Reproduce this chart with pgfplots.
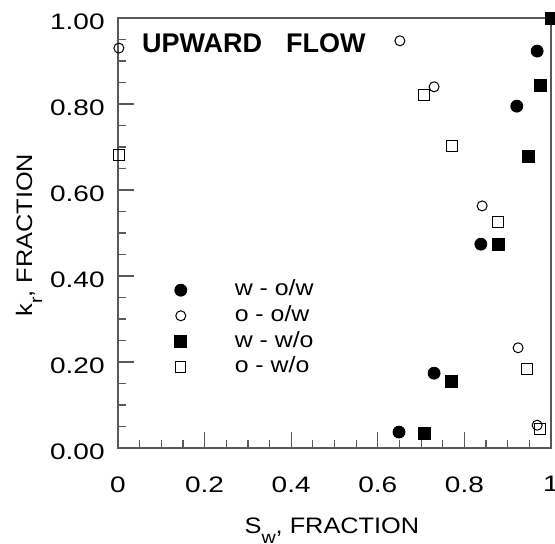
\documentclass[border=0pt]{standalone}
\usepackage{fontspec}
\setmainfont{Liberation Sans}[FakeStretch=1.13]
\newfontfamily\tickfont{Liberation Sans}[FakeStretch=1.25]
\newfontfamily\titlefont{Liberation Sans}
\usepackage{pgfplots}
\pgfplotsset{compat=1.18}

\pgfplotstableread{
x y
0.649 0.037
0.730 0.174
0.838 0.474
0.921 0.795
0.968 0.923
}\wow
\pgfplotstableread{
x y
0.002 0.930
0.651 0.947
0.730 0.840
0.841 0.563
0.924 0.233
0.968 0.053
}\oow
\pgfplotstableread{
x y
0.707 0.035
0.771 0.154
0.878 0.474
0.947 0.679
0.975 0.844
1.000 1.000
}\wwo
\pgfplotstableread{
x y
0.002 0.681
0.707 0.821
0.771 0.702
0.878 0.526
0.945 0.184
0.975 0.044
}\owo

\begin{document}
\begin{tikzpicture}
\begin{axis}[
  name=ax,
  scale only axis, width=216.5pt, height=215pt,
  xmin=0, xmax=1, ymin=0, ymax=1,
  clip=false,
  axis line style={black!65, line width=0.6pt},
  tick align=inside, tick pos=left,
  xtick={0,0.2,0.4,0.6,0.8,1},
  ytick={0,0.2,0.4,0.6,0.8,1},
  minor tick num=3,
  major tick length=8pt, minor tick length=4pt,
  every tick/.style={black!65, line width=0.6pt},
  /pgf/number format/assume math mode=true,
  tick label style={font=\tickfont\fontsize{11.2}{13}\selectfont},
  xticklabel style={anchor=north, inner sep=0pt, yshift=-14pt},
  yticklabel style={anchor=east, inner sep=0pt, xshift=-6.5pt, yshift=-1.7pt,
    /pgf/number format/fixed, /pgf/number format/fixed zerofill, /pgf/number format/precision=2},
  label style={font=\fontsize{11.2}{13}\selectfont},
  xlabel={S\raisebox{-5pt}{\fontsize{8.7}{10}\selectfont w}, FRACTION},
  ylabel={k\raisebox{-5pt}{\fontsize{8.7}{10}\selectfont r}, FRACTION},
  xlabel style={at={(axis description cs:0.494,-0.1977)}, anchor=base, inner sep=0pt},
  ylabel style={at={(axis description cs:-0.1986,0.495)}, anchor=base, inner sep=0pt},
  legend cell align=left,
  legend style={at={(axis cs:0.145,0.367)}, anchor=north west, xshift=-6pt, yshift=6.4pt,
    draw=none, fill=none, inner sep=0pt, outer sep=0pt, row sep=0pt,
    font=\fontsize{11}{13}\selectfont,
    nodes={inner sep=0pt, text height=5.8pt, text depth=0pt}},
  legend image code/.code={\draw[#1] plot coordinates {(0pt,0pt)}; \path[draw=none,fill=none] (-6pt,-6.4pt) (27pt,6.4pt);},
]
\addplot[only marks, mark=*, mark size=3pt, draw=black, fill=black] table {\wow};
\addlegendentry{w - o/w}
\addplot[only marks, mark=o, mark size=2.5pt, draw=black, line width=0.5pt] table {\oow};
\addlegendentry{o - o/w}
\addplot[only marks, mark=square*, mark size=3pt, draw=black, fill=black] table {\wwo};
\addlegendentry{w - w/o}
\addplot[only marks, mark=square, mark size=2.6pt, draw=black, line width=0.5pt] table {\owo};
\addlegendentry{o - w/o}
\node[anchor=base west, inner sep=0pt, font=\titlefont\bfseries\fontsize{13.5}{15}\selectfont]
  at (axis cs:0.055,0.919) {UPWARD\hspace{12pt}FLOW};
\end{axis}
\pgfresetboundingbox
\path ([xshift=-59pt,yshift=-48pt]ax.south west) rectangle ([xshift=2pt,yshift=9pt]ax.north east);
\end{tikzpicture}
\end{document}
